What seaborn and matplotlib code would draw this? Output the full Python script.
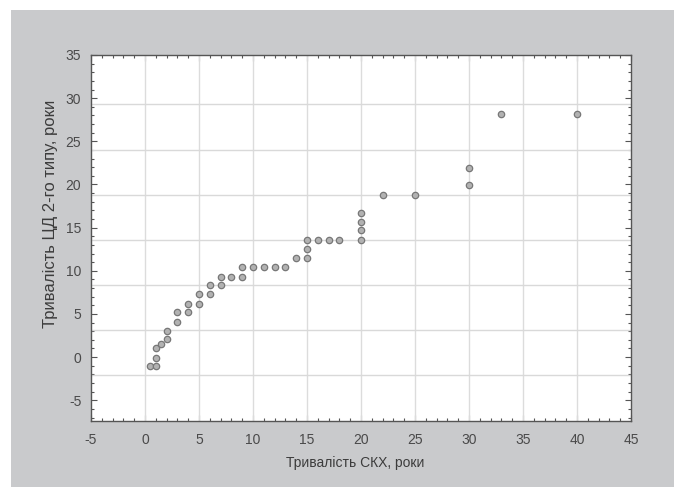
import numpy as np
import pandas as pd
import matplotlib
matplotlib.use("Agg")
import matplotlib.pyplot as plt
import seaborn as sns
from matplotlib.patches import Rectangle
from matplotlib.ticker import MultipleLocator

# Data
x_skh = [0.5, 1, 1, 1, 1.5, 2, 2, 3, 3, 4, 4, 5, 5, 6, 6, 7, 7, 8, 9, 9,
         10, 11, 12, 13, 14, 15, 15, 15, 16, 17, 18, 20, 20, 20, 20,
         22, 25, 30, 30, 33, 40]
y_cd = [-1.0, -1.0, -0.1, 1.0, 1.5, 2.1, 3.0, 4.1, 5.2, 5.2, 6.2, 6.2, 7.3, 7.3, 8.4, 8.4, 9.3, 9.3, 9.3, 10.4,
        10.4, 10.4, 10.4, 10.4, 11.5, 11.5, 12.5, 13.6, 13.6, 13.6, 13.6, 13.6, 14.7, 15.6, 16.7,
        18.8, 18.8, 19.9, 21.9, 28.2, 28.2]
x_ticks = [-5, 0, 5, 10, 15, 20, 25, 30, 35, 40, 45]
y_ticks = [-5, 0, 5, 10, 15, 20, 25, 30, 35]
x_label = "Тривалість СКХ, роки"
y_label = "Тривалість ЦД 2-го типу, роки"

df = pd.DataFrame({"x": x_skh, "y": y_cd})

sns.set_theme(style="white")
plt.rcParams['font.family'] = ['Liberation Sans', 'DejaVu Sans']

W, H = 674, 487
fig = plt.figure(figsize=(W / 100, H / 100), dpi=100)
fig.patch.set_facecolor("white")
bg = Rectangle((11 / W, 0), 1 - 11 / W, 1 - 10 / H, transform=fig.transFigure,
               facecolor="#c9cacc", edgecolor="none", zorder=-10)
fig.add_artist(bg)

ax = fig.add_axes([91 / W, 1 - 421 / H, 540 / W, 366 / H])
ax.set_zorder(1)
ax.set_facecolor("white")

ax.set_xlim(-5, 45)
ax.set_ylim(-7.4, 35)

# grid: vertical at major ticks, horizontal lines as in reference
for xv in x_ticks[1:-1]:
    ax.axvline(xv, color="#dcdcdc", lw=1.0, zorder=1)
for yv in np.arange(-2.1, 33, 5.23):
    ax.axhline(yv, color="#d9d9d9", lw=1.0, zorder=1)

sns.scatterplot(data=df, x="x", y="y", ax=ax, s=21, color="#b2b2b2",
                edgecolor="#777777", linewidth=0.9, zorder=3, legend=False)

ax.set_xticks(x_ticks)
ax.set_yticks(y_ticks)
ax.set_xticklabels([str(v) for v in x_ticks])
ax.set_yticklabels([str(v) for v in y_ticks])
ax.xaxis.set_minor_locator(MultipleLocator(1))
ax.yaxis.set_minor_locator(MultipleLocator(1))
ax.tick_params(which="both", direction="in", top=True, right=True, bottom=True, left=True,
               color="#555555", width=0.8)
ax.tick_params(which="major", length=4, labelsize=10, labelcolor="#4a4a4a")
ax.tick_params(which="minor", length=2.5)
ax.tick_params(axis="x", which="major", pad=9)
ax.tick_params(axis="y", which="major", pad=7)

for sp in ax.spines.values():
    sp.set_color("#555555")
    sp.set_linewidth(1.0)

ax.set_xlabel(x_label, fontsize=10, color="#3c3c3c")
ax.set_ylabel(y_label, fontsize=12, color="#3c3c3c")
ax.xaxis.set_label_coords(0.49, -0.095)
ax.yaxis.set_label_coords(-0.061, 0.566)

fig.savefig("out.png", dpi=100)
